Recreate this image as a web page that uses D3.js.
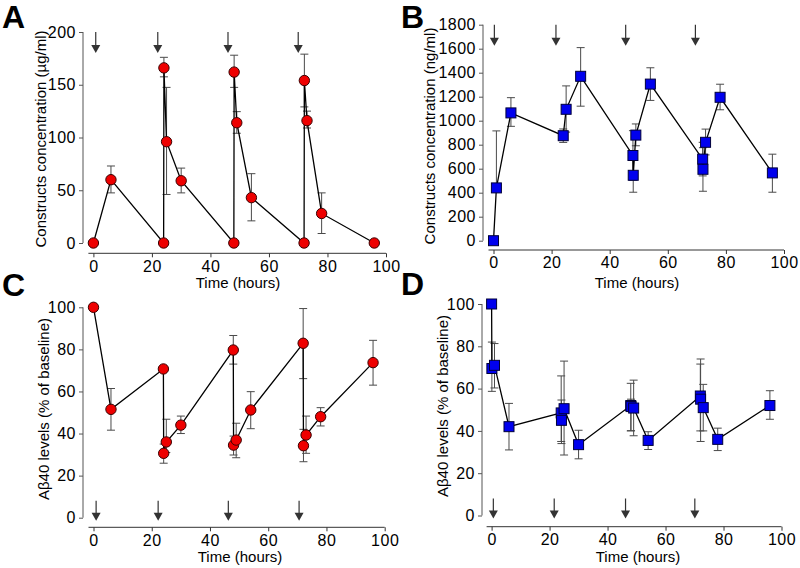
<!DOCTYPE html>
<html><head><meta charset="utf-8">
<script src="https://cdnjs.cloudflare.com/ajax/libs/d3/7.8.5/d3.min.js"></script>
<style>
body{margin:0;background:#fff}
svg{display:block}
text{font-family:"Liberation Sans",Arial,sans-serif;fill:#000}
</style>
</head><body>
<svg id="chart" width="800" height="568"></svg>
<script>
// ---------- DATA ----------
const xTicks = [0, 20, 40, 60, 80, 100];

// Panel A: constructs concentration (µg/ml)
const timeA = [0, 6, 24, 24.1, 25, 30, 48, 48.1, 49, 54, 72, 72.1, 73, 78, 96];
const valA  = [0, 60, 0, 166, 96, 59, 0, 162, 114, 43, 0, 154, 116, 28, 0];
const loA   = [null, 47.5, null, 157.5, 46, 47.5, null, 147.5, 104, 21, null, 129, 109, 9, null];
const hiA   = [null, 73, null, 176, 147.5, 71, null, 178, 124.5, 65.7, null, 179, 125, 47.5, null];
const yTicksA = [0, 50, 100, 150, 200];
const arrowsA = [0.8, 22, 46, 70];

// Panel B: constructs concentration (ng/ml)
const timeB = [0, 1, 6, 24, 25, 30, 48, 48.1, 49, 54, 72, 72.1, 73, 78, 96];
const valB  = [0, 440, 1065, 875, 1095, 1370, 710, 545, 880, 1305, 680, 595, 820, 1195, 565];
const loB   = [null, null, 953, 819, 905, 1121, 505, 404, 791, 1169, 540, 412, 715, 1091, 404];
const hiB   = [null, 915, 1192, 931, 1290, 1609, 917, 685, 973, 1441, 820, 775, 930, 1304, 721];
const yTicksB = [0, 200, 400, 600, 800, 1000, 1200, 1400, 1600, 1800];
const arrowsB = [0.3, 21.5, 45.5, 69.5];

// Panel C: Aβ40 levels (% of baseline), circles
const timeC = [0, 6, 24, 24.1, 25, 30, 48, 48.1, 49, 54, 72, 72.1, 73, 78, 96];
const valC  = [100, 51.5, 70.7, 30.6, 36, 44, 79.7, 34.5, 36.9, 51.2, 82.9, 34.2, 39.3, 48, 73.7];
const loC   = [null, 41.6, null, 25.9, 31, 40, 73, 29.8, 28.5, 42.3, 66.1, 26.6, 30.6, 43.6, 63];
const hiC   = [null, 61.4, null, 35, 46.8, 48.3, 86.6, 38.8, 44.9, 59.9, 99.4, 42, 48.3, 52.3, 84.3];
const yTicksC = [0, 20, 40, 60, 80, 100];
const arrowsC = [0.9, 22.2, 46.3, 70.6];

// Panel D: Aβ40 levels (% of baseline), squares
const timeD = [0, 0.1, 1, 6, 24, 24.1, 25, 30, 48, 48.1, 49, 54, 72, 72.1, 73, 78, 96];
const valD  = [100, 69.5, 71, 42, 48.5, 45, 50.5, 33.5, 52, 51.5, 50.8, 35.5, 56.5, 55, 51, 36, 52];
const loD   = [null, 58.7, 60.3, 31, 35, 34, 28.6, 26.8, 40, 40.1, 37.7, 31.2, 40, 35, 40, 30.7, 45.5];
const hiD   = [null, 82, 81.3, 53, 66, 54.6, 73, 40.3, 62.5, 55, 64, 39.6, 71.6, 74, 62, 41.3, 59];
const yTicksD = [0, 20, 40, 60, 80, 100];
const arrowsD = [0.6, 21.6, 46.2, 70.1];

// ---------- DRAW ----------
const svg = d3.select("#chart");
const TICK_FONT = "16px";

function zip(t, v, lo, hi) {
  return t.map((d, i) => ({t: d, v: v[i], lo: lo[i], hi: hi[i]}));
}

function panel(cfg) {
  const g = svg.append("g");
  const x = d3.scaleLinear().domain([0, 100]).range(cfg.xr);
  const y = d3.scaleLinear().domain(cfg.yd).range(cfg.yr);
  const data = zip(cfg.t, cfg.v, cfg.lo, cfg.hi);

  // y axis
  const ya = g.append("g").attr("transform", `translate(${cfg.yAxisX},0)`)
    .call(d3.axisLeft(y).tickValues(cfg.yTicks).tickSize(4).tickPadding(3).tickFormat(d3.format("d")));
  ya.select(".domain").attr("d", `M0,${y(cfg.yd[0])}V${y(cfg.yd[1])}`).attr("stroke", "#555");
  ya.selectAll(".tick line").attr("stroke", "#555");
  ya.selectAll("text").style("font-size", TICK_FONT).style("letter-spacing", "0.5px").attr("fill", "#000");

  // x axis
  const xa = g.append("g").attr("transform", `translate(0,${cfg.xAxisY})`)
    .call(d3.axisBottom(x).tickValues(xTicks).tickSize(4).tickPadding(3));
  xa.select(".domain").attr("d", `M${x(0) - 5},0H${x(100)}`).attr("stroke", "#333");
  xa.selectAll(".tick line").attr("stroke", "#333");
  xa.selectAll("text").style("font-size", TICK_FONT).style("letter-spacing", "0.5px").attr("fill", "#000");

  // error bars
  const eb = g.append("g").attr("stroke", "#4a4a4a").attr("stroke-width", 1).attr("fill", "none");
  data.forEach(d => {
    const cx = x(d.t);
    if (d.hi != null) {
      eb.append("line").attr("x1", cx).attr("x2", cx).attr("y1", y(d.v)).attr("y2", y(d.hi));
      eb.append("line").attr("x1", cx - 4).attr("x2", cx + 4).attr("y1", y(d.hi)).attr("y2", y(d.hi));
    }
    if (d.lo != null) {
      eb.append("line").attr("x1", cx).attr("x2", cx).attr("y1", y(d.v)).attr("y2", y(d.lo));
      eb.append("line").attr("x1", cx - 4).attr("x2", cx + 4).attr("y1", y(d.lo)).attr("y2", y(d.lo));
    }
  });

  // line
  g.append("path").datum(data)
    .attr("d", d3.line().x(d => x(d.t)).y(d => y(d.v)))
    .attr("fill", "none").attr("stroke", "#000").attr("stroke-width", 1.3);

  // markers
  if (cfg.marker === "circle") {
    g.selectAll("circle.m").data(data).join("circle")
      .attr("cx", d => x(d.t)).attr("cy", d => y(d.v)).attr("r", 5.2)
      .attr("fill", "#ee0000").attr("stroke", "#3a0000").attr("stroke-width", 1);
  } else {
    g.selectAll("rect.m").data(data).join("rect")
      .attr("x", d => x(d.t) - 5).attr("y", d => y(d.v) - 5).attr("width", 10).attr("height", 10)
      .attr("fill", "#0000ee").attr("stroke", "#00003a").attr("stroke-width", 1);
  }

  // arrows (dosing times)
  const ag = g.append("g");
  cfg.arrows.forEach(t => {
    const ax = x(t);
    let top, tip;
    if (cfg.arrowTop) { top = y(cfg.yd[1]); tip = top + 21; }
    else { tip = y(0) + 3; top = tip - 20; }
    ag.append("line").attr("x1", ax).attr("x2", ax).attr("y1", top).attr("y2", tip - 6)
      .attr("stroke", "#333").attr("stroke-width", 1.2);
    ag.append("path").attr("d", `M${ax - 4.5},${tip - 8}L${ax + 4.5},${tip - 8}L${ax},${tip}Z`)
      .attr("fill", "#333");
  });

  // axis titles
  g.append("text").attr("transform", `translate(${cfg.ylPos[0]},${cfg.ylPos[1]}) rotate(-90)`)
    .attr("text-anchor", "middle").attr("dy", "0.35em").style("font-size", "15px").text(cfg.ylabel);
  g.append("text").attr("x", cfg.xlPos[0]).attr("y", cfg.xlPos[1])
    .attr("text-anchor", "middle").attr("dy", "0.35em").style("font-size", "15px").text("Time (hours)");

  // panel letter
  g.append("text").attr("x", cfg.letterPos[0]).attr("y", cfg.letterPos[1])
    .style("font-size", "32px").style("font-weight", "bold").text(cfg.letter);
}

panel({letter: "A", letterPos: [2, 28], t: timeA, v: valA, lo: loA, hi: hiA, yTicks: yTicksA,
  xr: [93.4, 386], yd: [0, 200], yr: [243, 32], yAxisX: 83, xAxisY: 253.3,
  marker: "circle", arrows: arrowsA, arrowTop: true,
  ylabel: "Constructs concentration (µg/ml)", ylPos: [41, 139], xlPos: [238, 283]});

panel({letter: "B", letterPos: [401, 28], t: timeB, v: valB, lo: loB, hi: hiB, yTicks: yTicksB,
  xr: [493.5, 784], yd: [0, 1800], yr: [240.7, 24.7], yAxisX: 483, xAxisY: 250,
  marker: "square", arrows: arrowsB, arrowTop: true,
  ylabel: "Constructs concentration (ng/ml)", ylPos: [430, 136], xlPos: [637, 283]});

panel({letter: "C", letterPos: [2, 296], t: timeC, v: valC, lo: loC, hi: hiC, yTicks: yTicksC,
  xr: [93.5, 384.7], yd: [0, 100], yr: [517.7, 307.3], yAxisX: 83, xAxisY: 527.3,
  marker: "circle", arrows: arrowsC, arrowTop: false,
  ylabel: "Aβ40 levels (% of baseline)", ylPos: [43.5, 409], xlPos: [240, 557]});

panel({letter: "D", letterPos: [401, 295], t: timeD, v: valD, lo: loD, hi: hiD, yTicks: yTicksD,
  xr: [491.6, 781.5], yd: [0, 100], yr: [515.5, 304], yAxisX: 482, xAxisY: 526.7,
  marker: "square", arrows: arrowsD, arrowTop: false,
  ylabel: "Aβ40 levels (% of baseline)", ylPos: [443, 406], xlPos: [638, 557]});
</script>
</body></html>
